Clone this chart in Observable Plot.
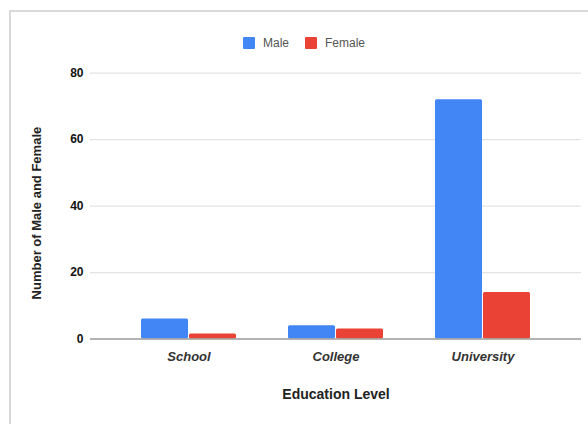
<!DOCTYPE html>
<html>
<head>
<meta charset="utf-8">
<script src="https://cdn.jsdelivr.net/npm/d3@7"></script>
<script src="https://cdn.jsdelivr.net/npm/@observablehq/plot@0.6"></script>
<style>
  html, body { margin: 0; padding: 0; background: #fff; }
  #wrap { position: relative; width: 588px; height: 424px; overflow: hidden; font-family: "Liberation Sans", Arial, sans-serif; }
  #frame { position: absolute; left: 9px; top: 10px; width: 700px; height: 500px; border-left: 2px solid #d9d9d9; border-top: 2px solid #d9d9d9; box-sizing: border-box; }
  #legend { position: relative; height: 54px; }
  #legend .items { position: absolute; left: 243px; top: 36px; display: flex; align-items: center; font-size: 12px; color: #555; }
  #legend .sw { width: 12px; height: 12px; margin-right: 8px; border-radius: 1px; }
  #legend .lab { margin-right: 16px; }
  #chart { position: relative; }
</style>
</head>
<body>
<div id="wrap">
  <div id="frame"></div>
  <div id="legend"><div class="items"></div></div>
  <div id="chart"></div>
</div>
<script>
const categories = ["School", "College", "University"];
const series = ["Male", "Female"];
const maleValues = [6, 4, 72];
const femaleValues = [1.5, 3, 14];
const yTicks = [0, 20, 40, 60, 80];
const colors = ["#4285F4", "#EA4335"];
const yTitle = "Number of Male and Female";
const xTitle = "Education Level";

const data = categories.flatMap((c, i) => [
  {category: c, series: "Male", value: maleValues[i]},
  {category: c, series: "Female", value: femaleValues[i]}
]);

// legend
const items = document.querySelector("#legend .items");
series.forEach((s, i) => {
  const sw = document.createElement("div");
  sw.className = "sw";
  sw.style.background = colors[i];
  const lab = document.createElement("div");
  lab.className = "lab";
  lab.textContent = s;
  items.appendChild(sw);
  items.appendChild(lab);
});

const W = 588, H = 370, ML = 90, MR = 7, MT = 18.7, MB = 85.5;
const pInner = 0.354, pOuter = 0.347;
const step = (W - ML - MR) / (categories.length - pInner + 2 * pOuter);
const bw = step * (1 - pInner);
const half = bw / 2 + 0.5;

const chart = Plot.plot({
  width: W,
  height: H,
  marginLeft: ML,
  marginRight: MR,
  marginTop: MT,
  marginBottom: MB,
  style: {fontFamily: "Liberation Sans, Arial, sans-serif", background: "transparent", overflow: "visible"},
  x: {domain: categories, paddingInner: pInner, paddingOuter: pOuter},
  y: {domain: [0, 80]},
  color: {domain: series, range: colors},
  marks: [
    Plot.ruleY(yTicks.filter(d => d > 0), {stroke: "#e3e3e3", strokeWidth: 1.2}),
    Plot.barY(data.filter(d => d.series === "Male"), {x: "category", y: "value", fill: "series", insetRight: half, rx: 1.5}),
    Plot.barY(data.filter(d => d.series === "Female"), {x: "category", y: "value", fill: "series", insetLeft: half, rx: 1.5}),
    Plot.ruleY([0], {stroke: "#9a9a9a", strokeWidth: 1.3}),
    Plot.axisY({ticks: yTicks, tickSize: 0, tickPadding: 7, fontWeight: "bold", fontSize: 12, fill: "#111", label: null}),
    Plot.axisX({tickSize: 0, tickPadding: 13, fontWeight: "bold", fontStyle: "italic", fontSize: 13, fill: "#333", label: null}),
    Plot.text([xTitle], {text: d => d, frameAnchor: "bottom", dy: 59.5, fontWeight: "bold", fontSize: 14, fill: "#222"}),
    Plot.text([yTitle], {text: d => d, frameAnchor: "left", textAnchor: "middle", rotate: -90, dx: -54, dy: 7, fontWeight: "bold", fontSize: 13, fill: "#222"})
  ]
});
document.getElementById("chart").appendChild(chart);
</script>
</body>
</html>
